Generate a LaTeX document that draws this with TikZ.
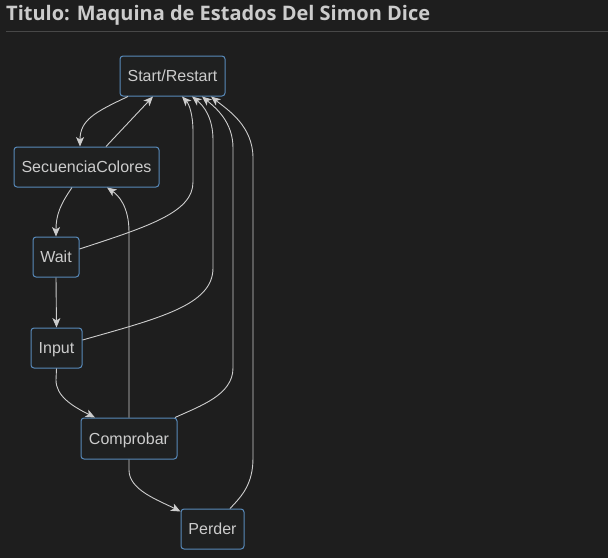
\documentclass[tikz,border=0pt]{standalone}
\usepackage{fontspec}
\setmainfont{Liberation Sans}
\newfontfamily\titlefont{Open Sans}
\usetikzlibrary{arrows.meta}
\definecolor{bgc}{RGB}{30,30,30}
\definecolor{nodefill}{RGB}{31,32,32}
\definecolor{nodeborder}{RGB}{88,138,186}
\definecolor{txt}{RGB}{204,204,204}
\definecolor{edgec}{RGB}{205,205,205}
\definecolor{rulec}{RGB}{72,72,72}
\tikzset{
  state/.style={draw=nodeborder, fill=nodefill, rounded corners=3pt, line width=1pt,
    minimum height=40pt, inner xsep=0pt, inner ysep=0pt, text=txt,
    text height=11.5pt, text depth=0pt,
    font=\fontsize{16}{19}\selectfont},
  conn/.style={draw=edgec, line width=0.9pt,
    -{Stealth[length=9.5pt,width=8pt,inset=2.5pt]}},
}
\begin{document}
\begin{tikzpicture}[x=1pt,y=-1pt]
\fill[bgc] (0,0) rectangle (608,558);
\useasboundingbox (0,0) rectangle (608,558);
\node[anchor=base west, text=txt, font=\titlefont\bfseries\fontsize{20}{24}\selectfont, inner sep=0pt] (title) at (6,20) {Titulo: Maquina de Estados Del Simon Dice};
\coordinate (ruleL) at (6,31.5);
\coordinate (ruleR) at (608,31.5);
\draw[rulec, line width=1pt] (ruleL) -- (ruleR);

\node[state, minimum width=105pt] (start) at (172.5,76) {Start/Restart};
\node[state, minimum width=145pt] (seq) at (86.5,167) {SecuenciaColores};
\node[state, minimum width=46pt] (wait) at (56,257) {Wait};
\node[state, minimum width=51pt] (input) at (56.5,348) {Input};
\node[state, minimum width=96pt, minimum height=41pt] (comp) at (129,438.5) {Comprobar};
\node[state, minimum width=63pt] (perder) at (212.5,529) {Perder};

% Start -> SecuenciaColores
\path[conn] ([xshift=-44.5pt]start.south) .. controls (95,112) and (80,120) .. ([xshift=-6.5pt]seq.north);
% SecuenciaColores -> Start
\path[conn] ([xshift=19.5pt]seq.north) -- ([xshift=-19.5pt]start.south);
% SecuenciaColores -> Wait
\path[conn] ([xshift=-14.5pt]seq.south) .. controls (60,205) and (56,215) .. (wait.north);
% Wait -> Input
\path[conn] (wait.south) -- (input.north);
% Input -> Comprobar
\path[conn] (input.south) -- (56,380) .. controls (56,396) and (72,406) .. ([xshift=-34pt]comp.north);
% Comprobar -> SecuenciaColores
\path[conn] (comp.north) -- (129,232) .. controls (129,206) and (118,195) .. ([xshift=20.5pt]seq.south);
% Comprobar -> Perder
\path[conn] (comp.south) -- (129,470) .. controls (129,490) and (158,500) .. ([yshift=-3pt]perder.north west);
% Wait -> Start
\path[conn] ([yshift=8pt]wait.east) .. controls (150,226) and (193,212) .. (193,182) -- (193,132) .. controls (193,114) and (189,104) .. ([xshift=9.5pt]start.south);
% Input -> Start
\path[conn] ([yshift=8pt]input.east) .. controls (160,318) and (213,305) .. (213,268) -- (213,140) .. controls (213,118) and (204,106) .. ([xshift=19.5pt]start.south);
% Comprobar -> Start
\path[conn] ([xshift=46pt]comp.north) .. controls (200,406) and (233,395) .. (233,368) -- (233,148) .. controls (233,122) and (216,108) .. ([xshift=29.5pt]start.south);
% Perder -> Start
\path[conn] ([xshift=17.5pt]perder.north) .. controls (242,496) and (253,484) .. (253,458) -- (253,158) .. controls (253,126) and (228,110) .. ([xshift=38.5pt]start.south);
\end{tikzpicture}
\end{document}
